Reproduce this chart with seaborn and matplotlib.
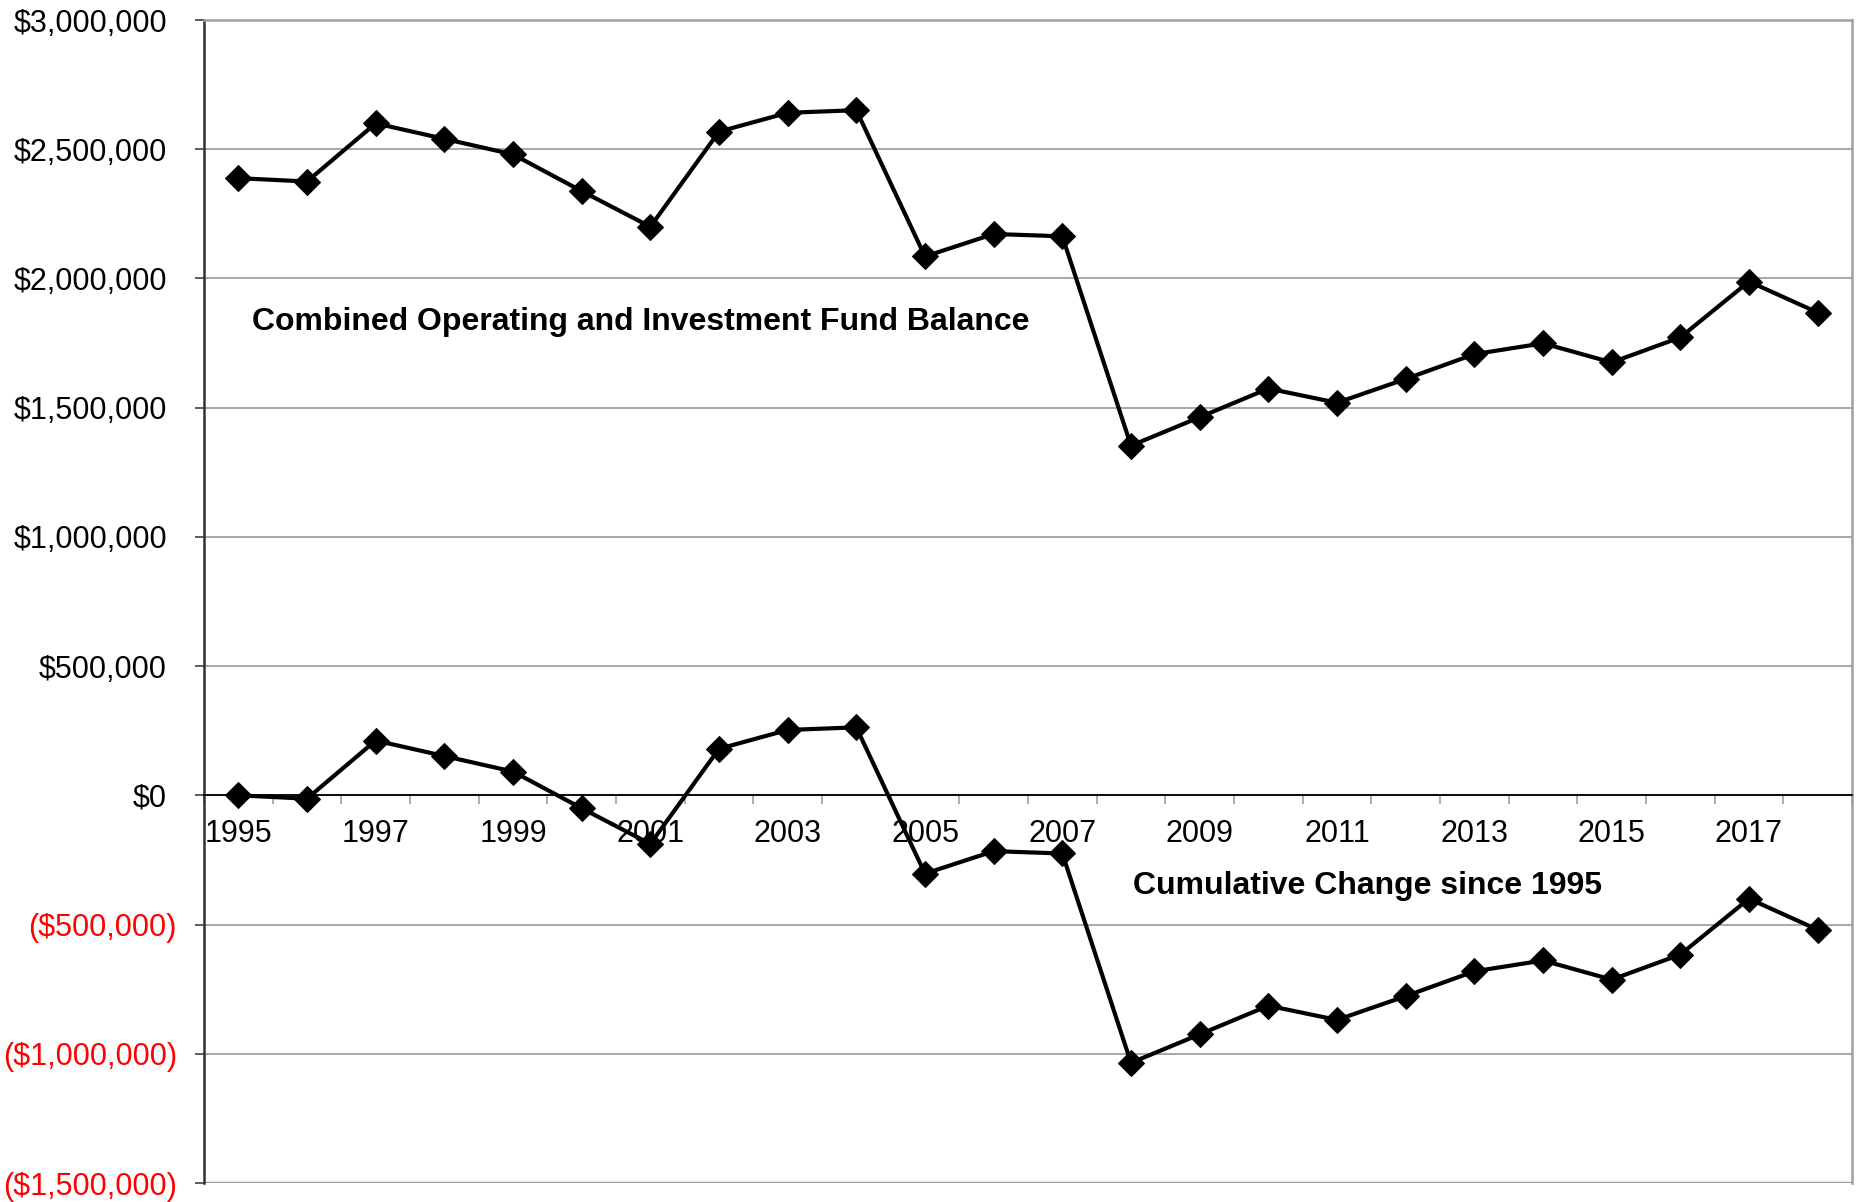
import numpy as np
import pandas as pd
import matplotlib
matplotlib.use("Agg")
import matplotlib.pyplot as plt
import matplotlib.ticker as mticker
from matplotlib.transforms import ScaledTranslation
import seaborn as sns

years = list(range(1995, 2019))
balance = [2388000, 2375000, 2600000, 2540000, 2480000, 2338000, 2200000, 2568000,
           2641000, 2651000, 2085000, 2172000, 2163000, 1353000, 1463000, 1574000,
           1519000, 1611000, 1707000, 1749000, 1675000, 1772000, 1988000, 1868000]
cumulative = [0, -13000, 212000, 152000, 92000, -50000, -188000, 180000,
              253000, 263000, -303000, -216000, -225000, -1035000, -925000, -814000,
              -869000, -777000, -681000, -639000, -713000, -616000, -400000, -520000]
y_ticks = [-1500000, -1000000, -500000, 0, 500000, 1000000, 1500000, 2000000, 2500000, 3000000]
label_top = "Combined Operating and Investment Fund Balance"
label_bottom = "Cumulative Change since 1995"

sns.set_style("white")
plt.rcParams['font.family'] = ['Liberation Sans', 'DejaVu Sans']
plt.rcParams['text.color'] = 'black'
plt.rcParams['xtick.color'] = 'black'
plt.rcParams['ytick.color'] = 'black'

fig = plt.figure(figsize=(18.62, 12.02), dpi=100)
ax = fig.add_axes([204/1862, 19/1202, (1852-204)/1862, (1183-20)/1202])

df = pd.DataFrame({"idx": np.arange(len(years)), "balance": balance, "cumulative": cumulative})
for col in ["balance", "cumulative"]:
    sns.lineplot(data=df, x="idx", y=col, ax=ax, color="black", linewidth=3.0,
                 marker="D", markersize=13, markeredgecolor="black", zorder=5)

ax.set_xlim(-0.5, len(years) - 0.5)
ax.set_ylim(y_ticks[0], y_ticks[-1])
ax.set_xlabel("")
ax.set_ylabel("")

# y axis
ax.yaxis.set_major_locator(mticker.FixedLocator(y_ticks))
def fmt(v, pos):
    if v < 0:
        return "(${:,.0f})".format(-v)
    return "${:,.0f}".format(v)
ax.yaxis.set_major_formatter(mticker.FuncFormatter(fmt))
ax.tick_params(axis="y", which="major", direction="out", length=6.5, width=1.2,
               color="#404040", labelcolor="black", labelsize=22, pad=13, left=True)
ax.grid(axis="y", color="#a0a0a0", linewidth=1.3)
ax.grid(axis="x", visible=False)
ax.set_axisbelow(True)

# x axis at zero
ax.spines["bottom"].set_position(("data", 0))
ax.spines["bottom"].set_color("black")
ax.spines["bottom"].set_linewidth(1.3)
ax.spines["bottom"].set_zorder(3)
ax.xaxis.set_major_locator(mticker.FixedLocator(np.arange(-0.5, len(years), 1.0)))
ax.xaxis.set_major_formatter(mticker.NullFormatter())
ax.xaxis.set_minor_locator(mticker.FixedLocator(np.arange(0, len(years), 2)))
ax.xaxis.set_minor_formatter(mticker.FixedFormatter([str(y) for y in years[::2]]))
ax.tick_params(axis="x", which="major", direction="out", length=6.5, width=1.2,
               color="#a0a0a0", bottom=True)
ax.tick_params(axis="x", which="minor", length=0, pad=17, labelsize=22,
               labelcolor="black", bottom=True)

ax.axhline(y_ticks[0], color="#a0a0a0", linewidth=2.5, zorder=2)
for s in ["top", "right"]:
    ax.spines[s].set_color("#a0a0a0")
    ax.spines[s].set_linewidth(1.8)
ax.spines["left"].set_color("#303030")
ax.spines["left"].set_linewidth(1.8)

for lab in ax.get_yticklabels():
    txt = lab.get_text()
    if txt.startswith("("):
        lab.set_color("red")
    else:
        lab.set_transform(lab.get_transform() + ScaledTranslation(-10/100, 0, fig.dpi_scale_trans))

ax.text(0.2, 1830000, label_top, fontsize=23, fontweight="bold", ha="left", va="center", color="black")
ax.text(13.03, -352000, label_bottom, fontsize=23, fontweight="bold", ha="left", va="center", color="black")

fig.savefig("out.png", dpi=100)
